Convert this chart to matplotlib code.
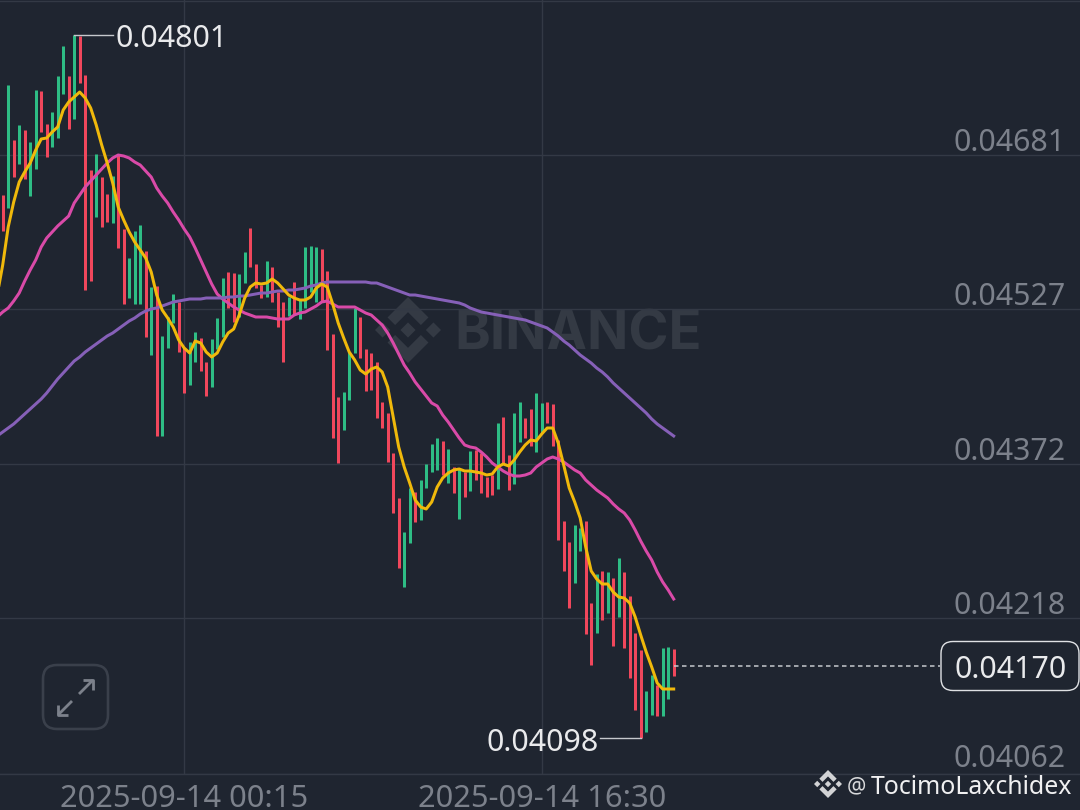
import numpy as np
import matplotlib
matplotlib.use("Agg")
import matplotlib.pyplot as plt
from matplotlib.patches import FancyBboxPatch, Polygon
from matplotlib.transforms import ScaledTranslation

# all prices below are in units of 0.00001
high = [4641,4751,4696,4711,4706,4694,4746,4745,4712,4724,
        4760,4790,4760,4801,4800,4761,4666,4682,4659,4642,
        4660,4681,4607,4578,4605,4611,4585,4549,4550,4500,
        4519,4542,4534,4488,4494,4504,4498,4474,4497,4518,
        4558,4564,4563,4562,4584,4608,4572,4551,4575,4569,
        4544,4534,4539,4554,4536,4589,4590,4589,4587,4565,
        4502,4439,4444,4484,4528,4519,4487,4483,4474,4434,
        4423,4383,4338,4304,4348,4344,4356,4372,4392,4398,
        4395,4387,4369,4368,4364,4385,4386,4383,4359,4361,
        4413,4419,4381,4423,4434,4418,4427,4443,4433,4434,
        4432,4396,4315,4294,4311,4308,4315,4233,4262,4265,
        4264,4258,4278,4264,4240,4203,4186,4145,4161,4151,
        4188,4189,4187]
low = [4605,4628,4659,4672,4657,4640,4667,4704,4679,4689,
       4698,4742,4707,4717,4753,4546,4555,4619,4609,4614,
       4613,4588,4532,4538,4532,4532,4499,4481,4400,4400,
       4488,4513,4484,4443,4451,4474,4465,4440,4449,4487,
       4499,4528,4514,4519,4553,4569,4548,4538,4539,4534,
       4509,4474,4520,4521,4517,4528,4544,4534,4534,4486,
       4398,4373,4406,4436,4483,4478,4445,4446,4418,4408,
       4374,4323,4268,4249,4293,4314,4316,4348,4364,4366,
       4361,4353,4343,4317,4339,4345,4356,4343,4339,4341,
       4347,4373,4346,4352,4394,4398,4390,4384,4403,4413,
       4390,4296,4265,4228,4253,4285,4202,4171,4203,4216,
       4223,4190,4219,4188,4158,4126,4098,4104,4121,4120,
       4120,4137,4160]
direction = ("rgrgrggrrg" "ggrgrrrgrr" "grrgggrgrg" "ggrrggrrgg" "grrggrrrgr"
             "rrgrggggrr" "rrgggrrrrr" "rrrggrgggg" "rgrgrgrrrr" "grrggrrggr"
             "rrrrggrrgr" "grgrrrrggr" "ggr")
# moving averages begin one candle before the first visible candle
ma_yellow = [4541,
             4571,4609,4634,4654,4664,4673,4686,4697,4698,4704,
             4709,4726,4734,4739,4744,4738,4728,4711,4691,4673,
             4653,4629,4616,4604,4594,4586,4578,4564,4541,4526,
             4518,4509,4496,4488,4483,4495,4493,4484,4479,4483,
             4494,4503,4507,4521,4538,4549,4553,4552,4553,4557,
             4553,4547,4541,4538,4536,4536,4539,4548,4552,4549,
             4532,4513,4498,4484,4476,4466,4462,4467,4469,4464,
             4449,4419,4389,4369,4353,4336,4329,4327,4334,4349,
             4358,4363,4366,4367,4365,4365,4364,4363,4361,4362,
             4369,4372,4370,4376,4384,4391,4396,4395,4402,4408,
             4408,4393,4371,4348,4334,4318,4289,4265,4257,4252,
             4252,4244,4239,4238,4233,4219,4201,4184,4169,4153,
             4147,4147,4147]
ma_pink = [4519,
           4524,4528,4535,4543,4555,4566,4576,4589,4598,4604,
           4610,4615,4620,4633,4641,4649,4655,4661,4667,4673,
           4678,4681,4680,4678,4674,4671,4665,4659,4648,4640,
           4633,4624,4616,4607,4599,4588,4576,4564,4552,4542,
           4537,4533,4529,4526,4523,4521,4519,4519,4519,4518,
           4517,4517,4517,4521,4523,4524,4527,4530,4534,4535,
           4532,4529,4529,4529,4529,4526,4523,4521,4516,4511,
           4503,4493,4482,4471,4463,4454,4447,4440,4433,4430,
           4421,4414,4406,4398,4391,4389,4388,4384,4379,4373,
           4369,4365,4362,4360,4360,4361,4363,4369,4373,4377,
           4379,4377,4374,4370,4366,4363,4356,4351,4346,4342,
           4338,4332,4327,4323,4316,4306,4295,4285,4276,4264,
           4254,4246,4237]
ma_purple = [4400,
             4404,4408,4412,4417,4422,4427,4432,4437,4443,4450,
             4457,4463,4469,4475,4479,4484,4488,4492,4496,4500,
             4503,4507,4511,4515,4518,4522,4525,4527,4528,4530,
             4532,4534,4535,4536,4537,4537,4537,4538,4538,4538,
             4538,4539,4539,4540,4540,4541,4542,4543,4543,4544,
             4545,4545,4546,4546,4547,4548,4550,4551,4553,4554,
             4554,4554,4554,4554,4554,4554,4554,4553,4553,4551,
             4549,4547,4545,4543,4541,4541,4540,4539,4538,4537,
             4536,4535,4534,4533,4531,4528,4526,4524,4523,4522,
             4521,4520,4519,4518,4517,4516,4514,4512,4510,4508,
             4504,4500,4495,4491,4486,4481,4477,4473,4468,4464,
             4459,4453,4448,4443,4438,4433,4428,4423,4417,4412,
             4408,4404,4400]
y_ticks = [4681, 4527, 4372, 4218, 4062]
y_labels = ["0.04681", "0.04527", "0.04372", "0.04218", "0.04062"]
x_ticks = [33, 98]
x_labels = ["2025-09-14 00:15", "2025-09-14 16:30"]
peak_label, trough_label, last_label = "0.04801", "0.04098", "0.04170"
peak_price, trough_price, last_price = 4801, 4098, 4170
credit = "TocimoLaxchidex"

BG = "#1f2530"
GRID = "#333945"
UP, DOWN = "#2ebd85", "#f0475c"
TICK = "#7c818b"
LIGHT = "#e9eaec"
FONT = "Noto Sans"
plt.rcParams["font.family"] = FONT

W, H = 1080, 810
PX = 72 / 100  # points per pixel at dpi 100
fig = plt.figure(figsize=(W / 100, H / 100), dpi=100, facecolor=BG)

# pixel-space layer below the chart, for the watermark
back = fig.add_axes([0, 0, 1, 1], zorder=0)
back.set_xlim(0, W); back.set_ylim(H, 0); back.axis("off")
# pixel-space layer above the chart, for badges and icons
front = fig.add_axes([0, 0, 1, 1], zorder=5)
front.set_xlim(0, W); front.set_ylim(H, 0); front.axis("off")


def logo(axis, cx, cy, r, color):
    shapes = [
        [(0, -1), (.62, -.38), (.39, -.15), (0, -.54), (-.39, -.15), (-.62, -.38)],
        [(0, 1), (.62, .38), (.39, .15), (0, .54), (-.39, .15), (-.62, .38)],
        [(0, -.23), (.23, 0), (0, .23), (-.23, 0)],
        [(.77, -.23), (1, 0), (.77, .23), (.54, 0)],
        [(-.77, -.23), (-.54, 0), (-.77, .23), (-1, 0)],
    ]
    for s in shapes:
        axis.add_patch(Polygon([(cx + a * r, cy + b * r) for a, b in s],
                               closed=True, fc=color, ec="none"))


logo(back, 408, 330, 33, "#343a44")
back.text(454, 329, "BINANCE", color="#343a44", fontsize=39, fontweight="bold",
          family="Inter", ha="left", va="center_baseline")

# main chart
ax = fig.add_axes([0, (H - 774) / H, 1, 774 / H], zorder=2)
ax.patch.set_alpha(0)
ax.set_xlim(-2.7 / 5.5, (W - 2.7) / 5.5)
ax.set_ylim(4062, 4836)
for s in ("left", "right", "top"):
    ax.spines[s].set_visible(False)
ax.spines["bottom"].set_color(GRID)
ax.spines["bottom"].set_linewidth(1.4 * PX)

idx = np.arange(len(high))
ma_idx = np.arange(-1, len(high))
colors = [UP if d == "g" else DOWN for d in direction]
ax.set_axisbelow(True)
ax.grid(True, color=GRID, linewidth=1.4 * PX)
ax.axhline(4835, color=GRID, linewidth=1.4 * PX, zorder=1)
ax.vlines(idx, low, high, colors=colors, linewidth=3.0 * PX, capstyle="butt", zorder=3)
ax.plot(ma_idx, ma_pink, color="#d94aa8", lw=3.0 * PX, zorder=4)
ax.plot(ma_idx, ma_purple, color="#8660b8", lw=3.0 * PX, zorder=4.1)
ax.plot(ma_idx, ma_yellow, color="#f0b90b", lw=3.0 * PX, zorder=4.2)

ax.set_xticks(x_ticks, x_labels)
ax.set_yticks(y_ticks, y_labels)
ax.yaxis.tick_right()
ax.tick_params(axis="y", length=0, labelsize=21.8, labelcolor=TICK)
ax.tick_params(axis="x", length=0, labelsize=22.2, labelcolor=TICK)
ax.tick_params(axis="x", pad=7)
ax.tick_params(axis="y", pad=-14 * PX)
shift = ScaledTranslation(0, -3 / 100, fig.dpi_scale_trans)
ylabs = ax.get_yticklabels()
for t in ylabs:
    t.set_ha("right")
    t.set_va("bottom")
for t in ylabs[:-1]:
    t.set_transform(t.get_transform() + shift)

# extreme labels
ax.plot([13, 20], [peak_price, peak_price], color="#c5c8cc", lw=1.4 * PX, zorder=5)
ax.text(20.5, peak_price, peak_label, color=LIGHT, fontsize=21.8, ha="left",
        va="center_baseline", zorder=6)
ax.plot([116, 108.6], [trough_price, trough_price], color="#c5c8cc", lw=1.4 * PX, zorder=5)
ax.text(108.3, trough_price - 1, trough_label, color=LIGHT, fontsize=21.8, ha="right",
        va="center_baseline", zorder=6)

# last price
ax.plot([122, 170.5], [last_price, last_price], color="#c9ccd0", lw=1.5 * PX,
        dashes=(4.5 / 1.5, 3.5 / 1.5), zorder=5)
front.add_patch(FancyBboxPatch((941 + 12, 641.5 + 12), 138 - 24, 49 - 24,
                               boxstyle="round,pad=12,rounding_size=12",
                               fc=BG, ec="#dfe1e4", lw=1.4 * PX))
front.text(1010.5, 666.5, last_label, color=LIGHT, fontsize=21.8, ha="center",
           va="center_baseline")

# expand button
front.add_patch(FancyBboxPatch((43 + 14, 665 + 14), 65 - 28, 64 - 28,
                               boxstyle="round,pad=14,rounding_size=14",
                               fc="none", ec="#3a404b", lw=2.6 * PX))
for xs, ys in [((79, 93), (694, 680)), ((83, 93, 93), (680, 680, 690)),
               ((72, 58), (701, 715)), ((58, 58, 68), (705, 715, 715))]:
    front.plot(xs, ys, color="#7c818b", lw=2.8 * PX, solid_capstyle="butt")

# credit
logo(front, 828, 784, 14, "#d2d3d5")
front.text(847, 784, "@", color="#d8d9db", fontsize=15.5, ha="left", va="center_baseline")
front.text(871, 784, credit, color="#f0f0f1", fontsize=17.9, ha="left", va="center_baseline")

fig.savefig("out.png", dpi=100, facecolor=BG)
